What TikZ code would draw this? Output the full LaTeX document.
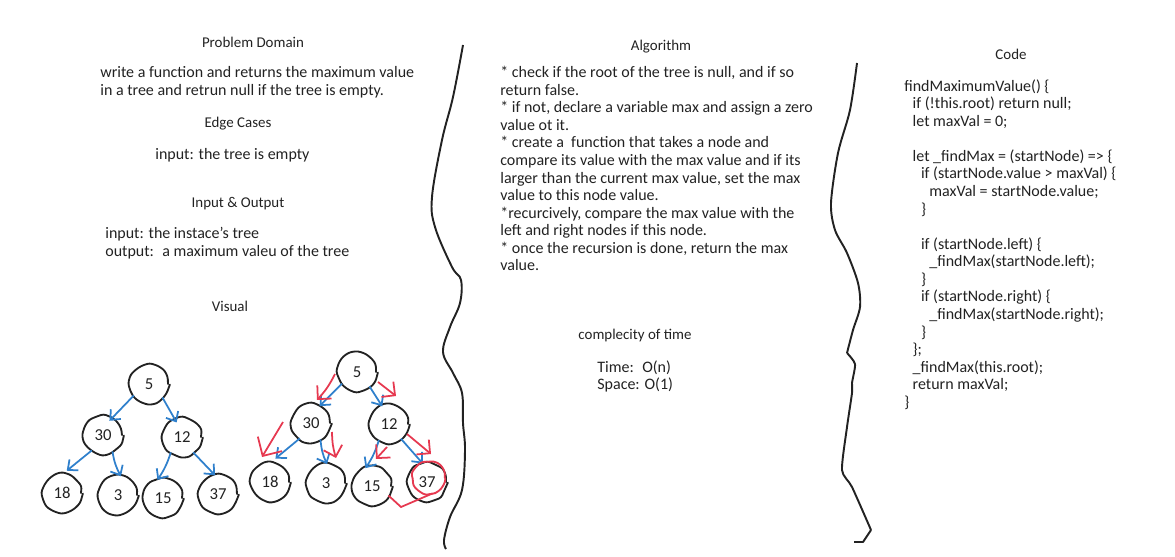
\documentclass[tikz,border=0pt]{standalone}
\usepackage{fontspec}
\setmainfont{Carlito}
\usetikzlibrary{arrows.meta,decorations.pathmorphing}
\definecolor{inkblack}{HTML}{222222}
\definecolor{penblue}{HTML}{2F80CC}
\definecolor{penred}{HTML}{E63950}
\tikzset{
  heading/.style={inner sep=0pt,text=inkblack,font=\fontsize{8.5}{10}\selectfont},
  body/.style={anchor=north west,inner sep=0pt,align=left,text=inkblack,font=\fontsize{9.1}{10}\selectfont},
  wobble/.style={decorate,decoration={random steps,segment length=4pt,amplitude=.5pt},rounded corners=1.5pt,line cap=round},
  treenode/.style={circle,inner sep=0pt,outer sep=0pt,minimum size=21.6pt,draw=inkblack,line width=1.05pt,
    text=inkblack,font=\fontsize{9.5}{10}\selectfont,wobble},
  blueedge/.style={penblue,line width=1pt,-{Straight Barb[length=4.5pt,width=8pt]}},
  rededge/.style={penred,line width=1pt,-{Straight Barb[length=5.5pt,width=11pt]}},
  separator/.style={inkblack,line width=1.1pt,line join=round},
}
\newcommand{\ind}[1]{\hspace*{#1\dimexpr4.75pt\relax}}
\begin{document}
\begin{tikzpicture}[x=0.02cm,y=-0.02cm]
\pgfmathsetseed{7}
\useasboundingbox (0,0) rectangle (1175,557);
% Problem column
\node[heading] (problem) at (253,42) {Problem Domain};
\node[body] (problemtext) at (100,66) {write a function and returns the maximum value\\in a tree and retrun null if the tree is empty.};
\node[heading] (edge) at (238,124) {Edge Cases};
\node[body] (edgetext) at (155,148) {input: the tree is empty};
\node[heading] (inout) at (238,204) {Input \& Output};
\node[body] (inouttext) at (105,227) {input: the instace's tree\\output:~ a maximum valeu of the tree};
\node[heading] (visual) at (230,306) {Visual};
% Algorithm column
\node[heading] (algorithm) at (661,47) {Algorithm};
\node[body] (algotext) at (500,66) {* check if the root of the tree is null, and if so\\
return false.\\
* if not, declare a variable max and assign a zero\\
value ot it.\\
* create a~ function that takes a node and\\
compare its value with the max value and if its\\
larger than the current max value, set the max\\
value to this node value.\\
*recurcively, compare the max value with the\\
left and right nodes if this node.\\
* once the recursion is done, return the max\\
value.};
\node[heading] (complexity) at (635,336) {complecity of time};
\node[body] (complexitytext) at (597,360) {Time:~ O(n)\\Space: O(1)};
% Code column
\node[heading] (code) at (1011,54) {Code};
\node[body] (codetext) at (904,79) {findMaximumValue() \{\\
\ind{1}if (!this.root) return null;\\
\ind{1}let maxVal = 0;\\
~\\
\ind{1}let \_findMax = (startNode) => \{\\
\ind{2}if (startNode.value > maxVal) \{\\
\ind{3}maxVal = startNode.value;\\
\ind{2}\}\\
~\\
\ind{2}if (startNode.left) \{\\
\ind{3}\_findMax(startNode.left);\\
\ind{2}\}\\
\ind{2}if (startNode.right) \{\\
\ind{3}\_findMax(startNode.right);\\
\ind{2}\}\\
\ind{1}\};\\
\ind{1}\_findMax(this.root);\\
\ind{1}return maxVal;\\
\}};
% Separators
\draw[separator] plot[smooth,tension=.6] coordinates {(463,45) (453,97) (442,140) (432,197) (435,227) (452,267) (461,280) (460,303) (450,327) (443,352) (453,373) (462,393) (463,423) (465,450) (462,490) (450,517) (444,540) (446,549)};
\draw[separator] plot[smooth,tension=.5] coordinates {(857,63) (850,110) (838,153) (831,203) (835,230) (847,253) (858,283) (860,307) (853,330) (847,353)};
\draw[separator] plot[smooth,tension=.4] coordinates {(847,353) (855,364) (852,383) (852,393) (847,427) (842,470) (852,487) (871,530)};
\draw[separator] (871,530) -- (863,542) -- (854,542);
% First tree
\node[treenode] (a5) at (149,384) {5};
\node[treenode] (a30) at (103,435) {30};
\node[treenode] (a12) at (182,437) {12};
\node[treenode] (a18) at (62,493) {18};
\node[treenode] (a3) at (118,495) {3};
\node[treenode] (a15) at (163,498) {15};
\node[treenode] (a37) at (218,494) {37};
\draw[blueedge,shorten >=-2pt] (a5.217) -- (a30.62);
\draw[blueedge,shorten >=-2pt] (a5.315) -- (a12.112);
\draw[blueedge,shorten >=3pt] (a30.234) -- (a18.88);
\draw[blueedge] (a30.300) to[bend right=10] (a3.81);
\draw[blueedge] (a12.234) to[bend left=8] (a15.107);
\draw[blueedge] (a12.306) -- (a37.99);
% Second tree
\node[treenode] (b5) at (357,372) {5};
\node[treenode] (b30) at (311,423) {30};
\node[treenode] (b12) at (389,424) {12};
\node[treenode] (b18) at (270,482) {18};
\node[treenode] (b3) at (326,483) {3};
\node[treenode] (b15) at (372,486) {15};
\node[treenode] (b37) at (427,482) {37};
\draw[blueedge] (b5.218) -- (b30.63);
\draw[blueedge] (b5.311) -- (b12.111);
\draw[blueedge,shorten >=4pt] (b30.234) -- (b18.90);
\draw[blueedge] (b30.300) to[bend right=10] (b3.87);
\draw[blueedge] (b12.238) to[bend left=8] (b15.110);
\draw[blueedge] (b12.309) -- (b37.103);
% Red traversal
\coordinate (r1a) at (335,374);
\coordinate (r1b) at (317,400);
\coordinate (r2a) at (378,382);
\coordinate (r2b) at (396,396);
\coordinate (r3a) at (283,422);
\coordinate (r3b) at (262,457);
\coordinate (r4a) at (332,432);
\coordinate (r4b) at (336,458);
\coordinate (r5a) at (387,447);
\coordinate (r5b) at (376,459);
\coordinate (r6a) at (407,434);
\coordinate (r6b) at (431,454);
\coordinate (tailbend) at (401,507);
\draw[rededge] (r1a) to[bend left=8] (r1b);
\draw[rededge] (r2a) -- (r2b);
\draw[rededge,-{Straight Barb[length=8pt,width=16pt]}] (r3a) -- (r3b);
\draw[rededge] (r4a) to[bend right=8] (r4b);
\draw[rededge] (r5a) -- (r5b);
\draw[rededge] (r6a) -- (r6b);
\node[treenode,draw=penred,minimum size=18pt] (ring) at (429,478) {};
\draw[penred,line width=1pt] (b15.330) -- (tailbend) -- (ring.283);
\end{tikzpicture}
\end{document}
